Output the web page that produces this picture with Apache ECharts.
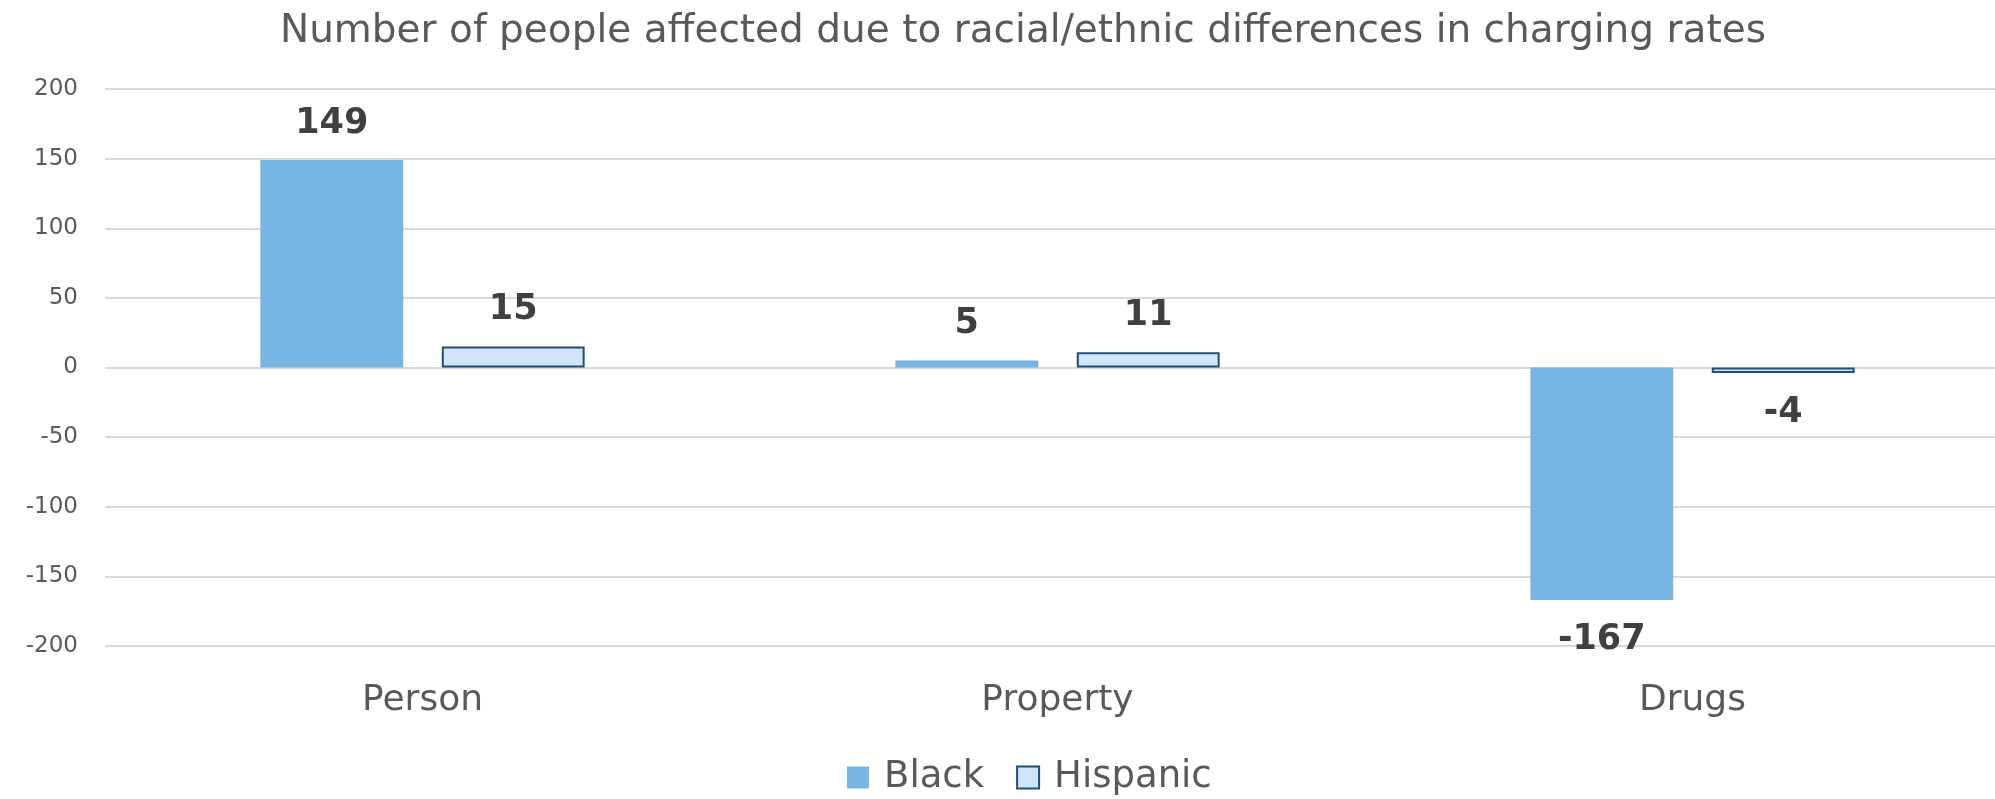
<!DOCTYPE html>
<html>
<head>
<meta charset="utf-8">
<script src="https://cdn.jsdelivr.net/npm/echarts@6/dist/echarts.min.js"></script>
<style>html,body{margin:0;padding:0;background:#fff;overflow:hidden}#c{width:2010px;height:799px}</style>
</head>
<body>
<div id="c"></div>
<script>
var categories = ['Person', 'Property', 'Drugs'];
var blackValues = [149, 5, -167];
var hispanicValues = [15, 11, -4];
var seriesNames = ['Black', 'Hispanic'];
var yTicks = {min: -200, max: 200, interval: 50};
var titleText = 'Number of people affected due to racial/ethnic differences in charging rates';

var FONT = '"DejaVu Sans"';
var chart = echarts.init(document.getElementById('c'));
var labelCfg = {
  show: true,
  position: 'top',
  distance: 19,
  fontFamily: FONT,
  fontWeight: 'bold',
  fontSize: 35,
  color: '#404040'
};
function lbl(vals) {
  return vals.map(function (v) {
    return {value: v, label: {position: v < 0 ? 'bottom' : 'top', distance: v < 0 ? 22 : 19}};
  });
}
chart.setOption({
  animation: false,
  title: {
    text: titleText,
    left: 1018,
    textAlign: 'center',
    top: 7,
    textStyle: {fontFamily: FONT, fontSize: 39, fontWeight: 'normal', color: '#595959'}
  },
  legend: {
    data: seriesNames,
    top: 754,
    left: 842,
    icon: 'rect',
    itemWidth: 22,
    itemHeight: 22,
    itemGap: 32,
    textStyle: {fontFamily: FONT, fontSize: 37, color: '#595959', padding: [0, 0, 0, 10]}
  },
  grid: {left: 105, right: 0, top: 89, bottom: 153},
  xAxis: {
    type: 'category',
    data: categories,
    axisLine: {show: false},
    axisTick: {show: false},
    axisLabel: {fontFamily: FONT, fontSize: 36, color: '#595959', margin: 37}
  },
  yAxis: {
    type: 'value',
    min: yTicks.min,
    max: yTicks.max,
    interval: yTicks.interval,
    axisLine: {show: false},
    axisTick: {show: false},
    axisLabel: {fontFamily: FONT, fontSize: 23, color: '#595959', margin: 27},
    splitLine: {lineStyle: {color: '#D9D9D9', width: 2}}
  },
  series: [
    {
      name: seriesNames[0],
      type: 'bar',
      data: lbl(blackValues),
      barWidth: '22.5%',
      barGap: '27%',
      itemStyle: {color: '#77B5E3'},
      label: labelCfg
    },
    {
      name: seriesNames[1],
      type: 'bar',
      data: lbl(hispanicValues),
      barWidth: '22.5%',
      barGap: '27%',
      itemStyle: {color: '#D0E5F5', borderColor: '#1F4E79', borderWidth: 2},
      label: labelCfg
    }
  ]
});
</script>
</body>
</html>
